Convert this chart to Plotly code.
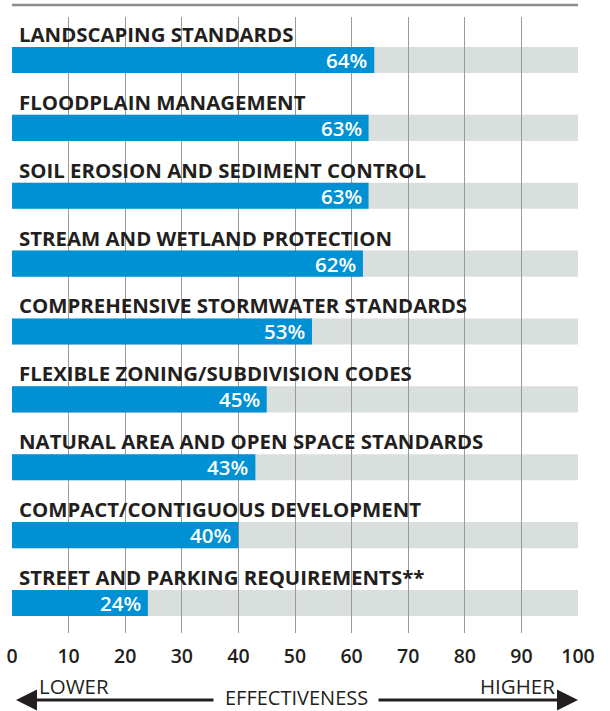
import plotly.graph_objects as go

categories = [
    "LANDSCAPING STANDARDS",
    "FLOODPLAIN MANAGEMENT",
    "SOIL EROSION AND SEDIMENT CONTROL",
    "STREAM AND WETLAND PROTECTION",
    "COMPREHENSIVE STORMWATER STANDARDS",
    "FLEXIBLE ZONING/SUBDIVISION CODES",
    "NATURAL AREA AND OPEN SPACE STANDARDS",
    "COMPACT/CONTIGUOUS DEVELOPMENT",
    "STREET AND PARKING REQUIREMENTS**",
]
values = [64, 63, 63, 62, 53, 45, 43, 40, 24]
tick_vals = [0, 10, 20, 30, 40, 50, 60, 70, 80, 90, 100]
tick_text = [str(v) for v in tick_vals]

BLUE = "#0090d4"
GRAY_BG = "#d9dfdc"
TEXT = "#231f20"
FONT = "Open Sans"

W, H = 610, 711
L, R, T, B = 12, 32, 17, 78
pw, ph = W - L - R, H - T - B

def px_x(p):
    return (p - L) / pw

def px_y(p):
    return (H - B - p) / ph

bar_w = 0.385

fig = go.Figure()
fig.add_trace(go.Bar(
    x=values, y=categories, orientation="h",
    marker=dict(color=BLUE, line=dict(width=0)),
    width=bar_w, hoverinfo="skip",
))

shapes = []
for i, c in enumerate(categories):
    shapes.append(dict(type="rect", xref="x", yref="y", x0=0, x1=100,
                       y0=i - bar_w / 2, y1=i + bar_w / 2,
                       fillcolor=GRAY_BG, line=dict(width=0), layer="below"))
# top rule
shapes.append(dict(type="line", xref="paper", yref="paper", x0=0, x1=1,
                   y0=px_y(5), y1=px_y(5), line=dict(color="#8c8c8c", width=2.5)))

annotations = []
for i, (c, v) in enumerate(zip(categories, values)):
    annotations.append(dict(x=0, y=i, xref="x", yref="y", text=c, showarrow=False,
                            xanchor="left", yanchor="middle", xshift=5, yshift=26,
                            font=dict(family=FONT, size=20.4, color=TEXT, weight="bold")))
    annotations.append(dict(x=v, y=i, xref="x", yref="y", text=f"{v}%", showarrow=False,
                            xanchor="right", yanchor="middle", xshift=-5, yshift=0,
                            font=dict(family=FONT, size=20.5, color="white", weight=600)))

# bottom effectiveness scale
ARROW_Y = 700
annotations += [
    dict(xref="paper", yref="paper", x=px_x(37), y=px_y(686), text="LOWER", showarrow=False,
         xanchor="left", yanchor="middle", font=dict(family=FONT, size=20.5, color=TEXT)),
    dict(xref="paper", yref="paper", x=px_x(557), y=px_y(686), text="HIGHER", showarrow=False,
         xanchor="right", yanchor="middle", font=dict(family=FONT, size=20.5, color=TEXT)),
    dict(xref="paper", yref="paper", x=px_x(296), y=px_y(697), text="EFFECTIVENESS", showarrow=False,
         xanchor="center", yanchor="middle",
         font=dict(family=FONT, size=20, color=TEXT)),
    dict(xref="paper", yref="paper", x=px_x(16), y=px_y(ARROW_Y), ax=215 - 16, ay=0, text="",
         showarrow=True, arrowhead=2, arrowsize=1.4, arrowwidth=3, arrowcolor=TEXT, standoff=0),
    dict(xref="paper", yref="paper", x=px_x(578), y=px_y(ARROW_Y), ax=377 - 578, ay=0, text="",
         showarrow=True, arrowhead=2, arrowsize=1.4, arrowwidth=3, arrowcolor=TEXT, standoff=0),
]

fig.update_layout(
    width=W, height=H,
    margin=dict(l=L, r=R, t=T, b=B, pad=0),
    paper_bgcolor="white", plot_bgcolor="white",
    showlegend=False,
    shapes=shapes, annotations=annotations,
    xaxis=dict(range=[0, 100], tickvals=tick_vals, ticktext=tick_text, automargin=False,
               showgrid=True, gridcolor="#9a9a9a", gridwidth=1, zeroline=False,
               showline=False, ticks="", ticklabelstandoff=9, fixedrange=True,
               tickfont=dict(family=FONT, size=19.5, color=TEXT, weight=600)),
    yaxis=dict(type="category", categoryorder="array", categoryarray=categories, automargin=False,
               range=[len(categories) - 1 + 0.442, -0.633], showticklabels=False,
               showgrid=False, zeroline=False, showline=False, ticks="", fixedrange=True),
)

fig.write_html("out.html", config={"displayModeBar": False},
               post_script="document.body.style.margin='0';document.body.style.overflow='hidden';")
